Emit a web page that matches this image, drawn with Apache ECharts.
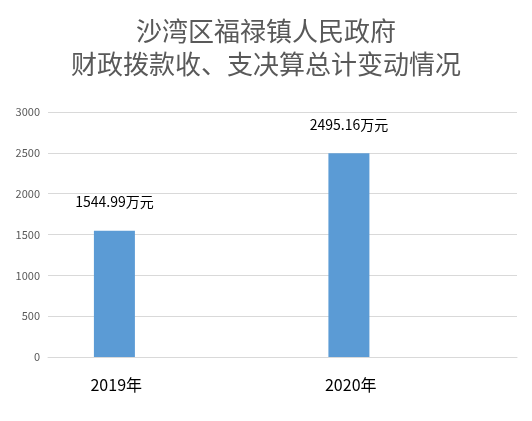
<!DOCTYPE html>
<html>
<head>
<meta charset="utf-8">
<script src="https://cdn.jsdelivr.net/npm/echarts@6/dist/echarts.min.js"></script>
<style>html,body{margin:0;padding:0;background:#fff}#c{width:532px;height:421px}</style>
</head>
<body>
<div id="c"></div>
<script>
const categories = ['2019年', '2020年'];
const values = [1544.99, 2495.16];
const emptyValues = [null, null];
const yTicks = { min: 0, max: 3000, interval: 500 };
const titleLines = ['沙湾区福禄镇人民政府', '财政拨款收、支决算总计变动情况'];

const chart = echarts.init(document.getElementById('c'));
chart.setOption({
  animation: false,
  backgroundColor: '#ffffff',
  title: {
    text: titleLines.join('\n'),
    left: 'center',
    top: 10,
    textStyle: {
      fontFamily: 'Noto Sans CJK SC',
      fontSize: 26,
      fontWeight: 'normal',
      color: '#595959',
      lineHeight: 33
    }
  },
  grid: { left: 48, right: 15, top: 112, bottom: 64 },
  xAxis: {
    type: 'category',
    data: categories,
    axisLine: { lineStyle: { color: '#d9d9d9' } },
    axisTick: { show: false },
    axisLabel: {
      color: '#000000',
      fontSize: 16,
      fontFamily: 'Noto Sans CJK SC, sans-serif',
      margin: 20,
      padding: [0, 98, 0, 0]
    }
  },
  yAxis: {
    type: 'value',
    min: yTicks.min,
    max: yTicks.max,
    interval: yTicks.interval,
    axisLine: { show: false },
    axisTick: { show: false },
    splitLine: { lineStyle: { color: '#d9d9d9' } },
    axisLabel: {
      color: '#595959',
      fontSize: 11,
      margin: 8,
      fontFamily: 'Noto Sans CJK SC, sans-serif',
      formatter: v => String(v)
    }
  },
  series: [
    {
      type: 'bar',
      data: values,
      barWidth: 41,
      barGap: '148%',
      itemStyle: { color: '#5b9bd5' },
      label: {
        show: true,
        position: 'top',
        distance: 22,
        color: '#000000',
        fontSize: 14,
        fontFamily: 'Noto Sans CJK SC, sans-serif',
        formatter: p => p.value + '万元'
      }
    },
    {
      type: 'bar',
      data: emptyValues,
      barWidth: 41,
      itemStyle: { color: '#ed7d31' }
    }
  ]
});
</script>
</body>
</html>
